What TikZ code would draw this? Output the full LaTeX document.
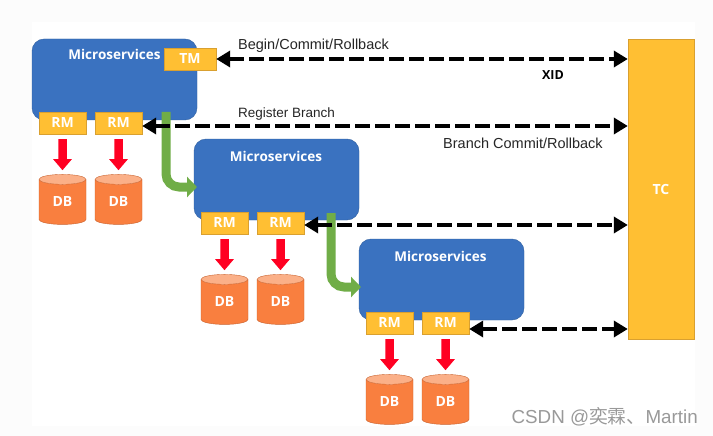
\documentclass[tikz,border=0pt]{standalone}
\usepackage{fontspec}
\setmainfont{Liberation Sans}
\newfontfamily\boldfont{Open Sans}
\newfontfamily\cjkfont{Noto Sans CJK SC}
\usetikzlibrary{arrows.meta,shapes.geometric}

\definecolor{msblue}{HTML}{3A72C0}
\definecolor{msedge}{HTML}{2F5F9F}
\definecolor{boxyellow}{HTML}{FFBF33}
\definecolor{boxedge}{HTML}{D9A030}
\definecolor{dborange}{HTML}{F97F3F}
\definecolor{dbtop}{HTML}{FBB088}
\definecolor{dbedge}{HTML}{C9622E}
\definecolor{flowgreen}{HTML}{70AD47}
\definecolor{writered}{HTML}{FF0022}

\tikzset{
	msbox/.style={draw=msedge,fill=msblue,rounded corners=12pt,minimum width=165pt,minimum height=81pt,inner sep=0pt},
	msname/.style={text=white,font=\boldfont\bfseries\fontsize{13.5pt}{15pt}\selectfont,inner sep=0pt},
	yellowbox/.style={draw=boxedge,fill=boxyellow,text=white,font=\boldfont\bfseries\fontsize{14pt}{16pt}\selectfont,inner sep=0pt},
	rmbox/.style={yellowbox,minimum width=47pt,minimum height=22pt},
	dbcyl/.style={cylinder,shape border rotate=90,shape aspect=.5,draw=dbedge,cylinder uses custom fill,
		cylinder body fill=dborange,cylinder end fill=dbtop,text=white,font=\boldfont\bfseries\fontsize{14pt}{16pt}\selectfont,
		minimum width=47pt,minimum height=50pt,inner sep=0pt},
	writearrow/.style={draw=writered,line width=8.5pt,-{Triangle[length=11pt,width=18pt]},shorten <=5pt,shorten >=4pt},
	flowarrow/.style={draw=flowgreen,line width=9pt,rounded corners=13pt,-{Triangle[length=10pt,width=20pt]}},
	callarrow/.style={draw=black,line width=4.5pt,dash pattern=on 15pt off 5pt,{Triangle[length=14pt,width=16pt]}-{Triangle[length=14pt,width=16pt]}},
	plainlabel/.style={text=black!85,font=\fontsize{14.5pt}{16pt}\selectfont,inner sep=0pt},
}

% one service with its two resource managers and databases
\newcommand{\msunit}[3]{
	\pgfmathsetmacro{\MUxa}{#2+30.5}
	\pgfmathsetmacro{\MUxb}{#2+86.5}
	\pgfmathsetmacro{\MUym}{#3+84}
	\pgfmathsetmacro{\MUyd}{#3+163}
	\node[msbox] (ms#1) at (#2+82.5,#3+40.5) {};
	\node[rmbox] (rm#1a) at (\MUxa,\MUym) {RM};
	\node[rmbox] (rm#1b) at (\MUxb,\MUym) {RM};
	\node[dbcyl] (db#1a) at (\MUxa,\MUyd) {DB};
	\node[dbcyl] (db#1b) at (\MUxb,\MUyd) {DB};
	\draw[writearrow] (rm#1a) -- (db#1a);
	\draw[writearrow] (rm#1b) -- (db#1b);
}

\begin{document}
\begin{tikzpicture}[x=1pt,y=-1pt]
\useasboundingbox (0,0) rectangle (713,436);
\fill[black!1] (0,0) rectangle (713,436);
\fill[white] (32,22) rectangle (695,426);

\node[draw=boxedge,fill=boxyellow,text=white,font=\boldfont\bfseries\fontsize{14pt}{16pt}\selectfont,minimum width=66pt,minimum height=300pt,inner sep=0pt] (tc) at (661,189) {TC};

\msunit{a}{32}{39}
\msunit{b}{194}{139}
\msunit{c}{359}{239}

\node[msname] (namea) at (114.5,54.5) {Microservices};
\node[msname] (nameb) at (276,156) {Microservices};
\node[msname] (namec) at (440.5,256) {Microservices};
\node[yellowbox,minimum width=52pt,minimum height=22pt] (tm) at (190,59) {TM};

\coordinate (flowastart) at (166,112);
\coordinate (flowaend) at (197,187);
\coordinate (flowbstart) at (331,213);
\coordinate (flowbend) at (361,287);
\draw[flowarrow] (flowastart) |- (flowaend);
\draw[flowarrow] (flowbstart) |- (flowbend);

\draw[callarrow] (tm.east) -- (tm.east -| tc.west);
\draw[callarrow] ([yshift=-3pt]rmab.east) -- ([yshift=-3pt]rmab.east -| tc.west);
\draw[callarrow] ([yshift=-2pt]rmbb.east) -- ([yshift=-2pt]rmbb.east -| tc.west);
\draw[callarrow] ([yshift=-6pt]rmcb.east) -- ([yshift=-6pt]rmcb.east -| tc.west);

\node[plainlabel,anchor=west] (lbegin) at (238,46) {Begin/Commit/Rollback};
\node[text=black,font=\boldfont\bfseries\fontsize{12.5pt}{14pt}\selectfont,inner sep=0pt] (lxid) at (553,75) {XID};
\node[plainlabel,anchor=west,font=\fontsize{13.5pt}{15pt}\selectfont] (lregister) at (238,114) {Register Branch};
\node[plainlabel,anchor=west] (lbranch) at (443,143.5) {Branch Commit/Rollback};
\node[text=black!40,font=\fontsize{18.8pt}{20pt}\selectfont,inner sep=0pt,anchor=east] (lmark) at (698,417) {CSDN @{\cjkfont 奕霖、}Martin};
\end{tikzpicture}
\end{document}
